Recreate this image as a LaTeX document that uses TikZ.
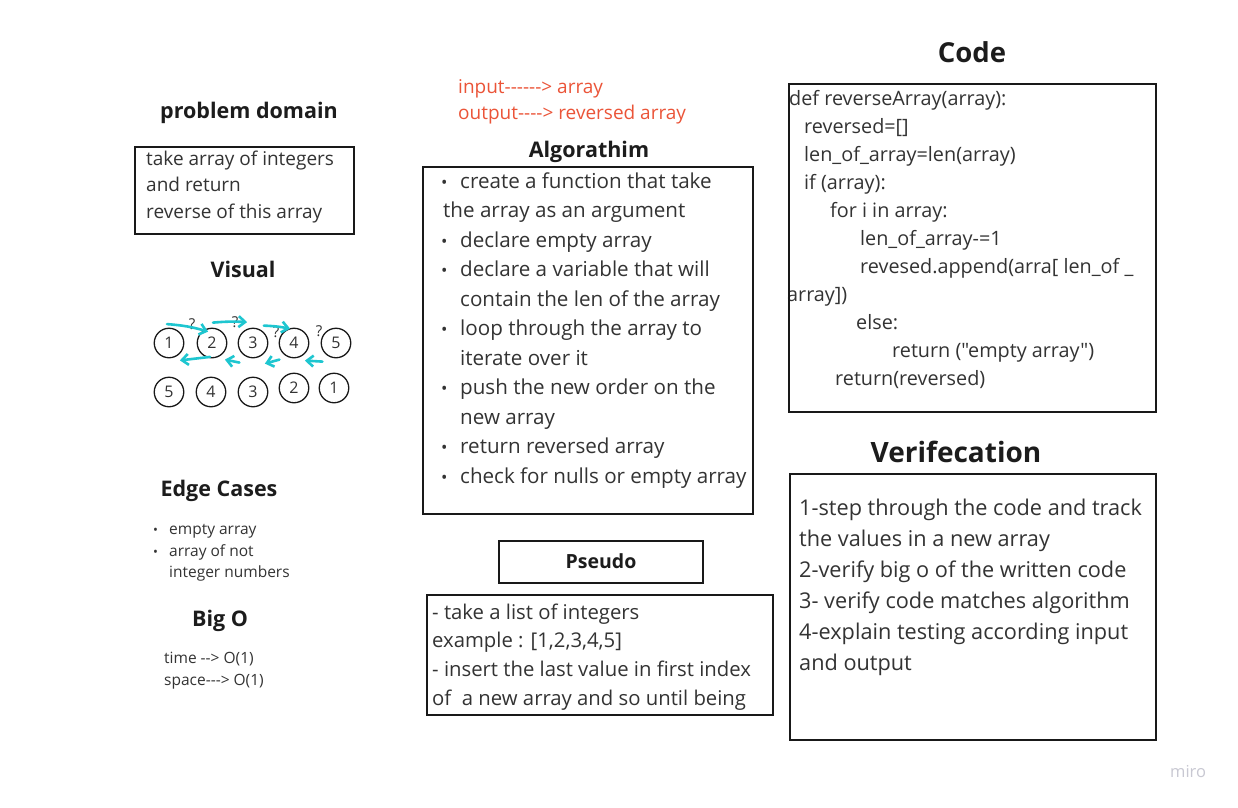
\documentclass[tikz,border=0pt]{standalone}
\usepackage{fontspec}
\setmainfont{Open Sans}[Ligatures=TeXOff]
\usetikzlibrary{arrows.meta}
\definecolor{inkgray}{RGB}{51,51,51}
\definecolor{titleblack}{RGB}{28,28,28}
\definecolor{miroteal}{RGB}{30,198,208}
\definecolor{notered}{RGB}{235,84,56}
\definecolor{logogray}{RGB}{200,200,210}
\newcommand{\bul}{\makebox[19pt][l]{\fontsize{17}{19}\selectfont •}}
\newcommand{\smallbul}{\makebox[16pt][l]{\fontsize{13}{15}\selectfont •}}

\tikzset{
  sheetbox/.style 2 args={draw=black!90, line width=2.6pt, minimum width=#1, minimum height=#2, inner sep=0},
  heading/.style={anchor=base, inner sep=0, text=titleblack, font=\bfseries\fontsize{21.5}{26}\selectfont},
  bigheading/.style={heading, font=\bfseries\fontsize{27.5}{32}\selectfont},
  txt/.style={anchor=base west, inner sep=0, text=inkgray},
  numcirc/.style={circle, draw=black!90, line width=1.3pt, minimum size=29.5, inner sep=0, text=inkgray, font=\fontsize{16}{18}\selectfont},
  swapline/.style={draw=miroteal, line width=2.6pt, line cap=round, -{Straight Barb[length=6.5pt, width=11pt]}},
  qmark/.style={inner sep=0, text=inkgray, font=\fontsize{15}{17}\selectfont}
}

\begin{document}
\begin{tikzpicture}[x=1pt, y=-1pt]
\fill[white] (0,0) rectangle (1238,807);
\useasboundingbox (0,0) rectangle (1238,807);

% problem domain
\node[heading] (probtitle) at (249,118) {problem domain};
\node[sheetbox={219}{87}] (probbox) at (244.5,190.5) {};
\foreach \t [count=\i] in {take array of integers, and return, reverse of this array}
  \node[txt, font=\fontsize{19}{23}\selectfont] (prob\i) at (146,138.5+26.5*\i) {\t};

% visual
\node[heading] (vistitle) at (243,277) {Visual};
\foreach \n/\x in {1/169, 2/212, 3/253, 4/294, 5/336}
  \node[numcirc] (c\n) at (\x,343) {\n};
\foreach \n/\x/\y in {5/169/392, 4/211/392, 3/253/392, 2/294/388, 1/334/388}
  \node[numcirc] (d\n) at (\x,\y) {\n};
\node[qmark] (q1) at (192,324) {?};
\node[qmark] (q2) at (235,322) {?};
\node[qmark] (q3) at (276,332) {?};
\node[qmark] (q4) at (319,331) {?};
\draw[swapline] ([shift={(-2,-3.5)}]c1.north) to[bend left=6] ([shift={(7,-0.5)}]c2.north west);
\draw[swapline] ([shift={(1,-5)}]c2.north) to[bend left=4] ([shift={(5,-10)}]c3.north west);
\draw[swapline] ([shift={(0,-6.5)}]c3.north east) to[bend left=4] ([shift={(7,-3.5)}]c4.north west);
\draw[swapline] ([shift={(-2,-1.5)}]c2.south) -- ([shift={(0,6.5)}]c1.south east);
\draw[swapline] ([shift={(-2.7,8.7)}]c3.south west) -- ([shift={(2,5.7)}]c2.south east);
\draw[swapline] ([shift={(-3.7,5.7)}]c4.south west) -- ([shift={(1,9.7)}]c3.south east);
\draw[swapline] ([shift={(-2.7,7.7)}]c5.south west) -- ([shift={(0,6.7)}]c4.south east);

% edge cases and big o
\node[heading] (edgetitle) at (219,496) {Edge Cases};
\foreach \x/\t [count=\i] in {153/{\smallbul empty array}, 153/{\smallbul array of not}, 169/{integer numbers}}
  \node[txt, font=\fontsize{15.5}{18}\selectfont] (edge\i) at (\x,513+21.5*\i) {\t};
\node[heading] (bigotitle) at (220,626) {Big O};
\node[txt, font=\fontsize{15.5}{18}\selectfont] (time) at (164,663) {time --> O(1)};
\node[txt, font=\fontsize{15.5}{18}\selectfont] (space) at (164,685) {space---> O(1)};

% input / output
\node[txt, text=notered, font=\fontsize{19}{23}\selectfont] (inp) at (458,93) {input------> array};
\node[txt, text=notered, font=\fontsize{19}{23}\selectfont] (outp) at (458,119) {output----> reversed array};

% algorithm
\node[heading] (algtitle) at (589,157) {Algorathim};
\node[sheetbox={330}{347}] (algbox) at (588,340.5) {};
\foreach \x/\t [count=\i] in {441/{\bul create a function that take}, 443/{the array as an argument},
    441/{\bul declare empty array}, 441/{\bul declare a variable that will}, 460/{contain the len of the array},
    441/{\bul loop through the array to}, 460/{iterate over it}, 441/{\bul push the new order on the},
    460/{new array}, 441/{\bul return reversed array}, 441/{\bul check for nulls or empty array}}
  \node[txt, font=\fontsize{20.6}{24}\selectfont] (alg\i) at (\x,158.5+29.5*\i) {\t};

% pseudo
\node[sheetbox={204}{42}] (pseudotbox) at (601,562) {};
\node[heading, font=\bfseries\fontsize{19.5}{23}\selectfont] (pseudotitle) at (601,568) {Pseudo};
\node[sheetbox={346}{120}] (pseudobox) at (600,655) {};
\foreach \t [count=\i] in {- take a list of integers, {example : [1,2,3,4,5]},
    - insert the last value in first index, of~ a new array and so until being}
  \node[txt, font=\fontsize{20.3}{24}\selectfont] (pseudo\i) at (432,590.3+28.7*\i) {\t};

% code
\node[bigheading] (codetitle) at (972,62) {Code};
\foreach \x/\t [count=\i] in {789/{def reverseArray(array):}, 804/{reversed=[]}, 804/{len\_of\_array=len(array)},
    804/{if (array):}, 830/{for i in array:}, 860/{len\_of\_array-=1}, 860/{revesed.append(arra[ len\_of \_},
    787/{array])}, 856/{else:}, 892/{return ("empty array")}, 835/{return(reversed)}}
  \node[txt, font=\fontsize{19.8}{23}\selectfont] (code\i) at (\x,77+28*\i) {\t};
\node[sheetbox={367}{328}] (codebox) at (972.5,248) {};

% verification
\node[bigheading, font=\bfseries\fontsize{28}{32}\selectfont] (vertitle) at (956,462) {Verifecation};
\node[sheetbox={366}{266}] (verbox) at (973,607) {};
\foreach \t [count=\i] in {1-step through the code and track, the values in a new array,
    2-verify big o of the written code, 3- verify code matches algorithm,
    4-explain testing according input, and output}
  \node[txt, font=\fontsize{21.7}{26}\selectfont] (ver\i) at (799,484+31*\i) {\t};

\node[txt, text=logogray, font=\fontsize{16.5}{19}\selectfont] (logo) at (1170,777) {miro};
\end{tikzpicture}
\end{document}
